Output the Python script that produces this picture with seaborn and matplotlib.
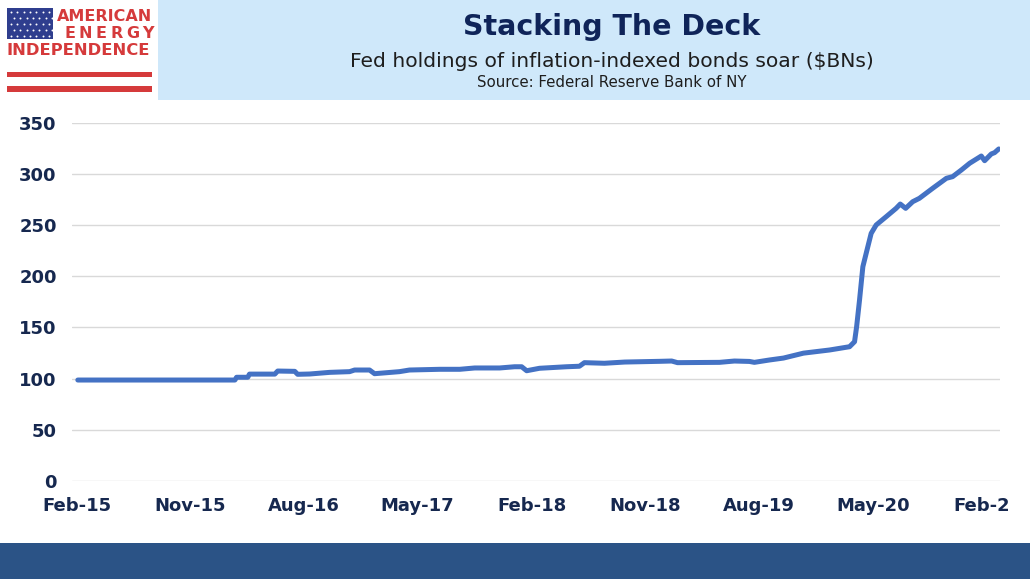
import pandas as pd
import matplotlib
matplotlib.use('Agg')
import matplotlib.pyplot as plt
from matplotlib.patches import Rectangle
from matplotlib.transforms import Bbox, TransformedBbox
import seaborn as sns

# Fed holdings of TIPS, $BN
datas = ['2015-02-04', '2016-02-17', '2016-02-21', '2016-03-19', '2016-03-23',
         '2016-05-23', '2016-05-30', '2016-07-10', '2016-07-17', '2016-08-15',
         '2016-10-02', '2016-11-19', '2016-12-01', '2017-01-06', '2017-01-18',
         '2017-03-19', '2017-04-12', '2017-06-24', '2017-08-11', '2017-09-16',
         '2017-11-15', '2017-12-21', '2018-01-07', '2018-01-19', '2018-02-19',
         '2018-04-25', '2018-05-26', '2018-06-07', '2018-07-25', '2018-09-12',
         '2018-12-05', '2019-01-03', '2019-01-17', '2019-04-28', '2019-06-03',
         '2019-07-09', '2019-07-21', '2019-08-26', '2019-09-29', '2019-11-16',
         '2020-01-18', '2020-02-11', '2020-03-06', '2020-03-18', '2020-03-23',
         '2020-03-30', '2020-04-07', '2020-04-15', '2020-04-27', '2020-05-09',
         '2020-06-02', '2020-06-26', '2020-07-06', '2020-07-19', '2020-08-05',
         '2020-08-21', '2020-09-22', '2020-10-25', '2020-11-09', '2020-11-30',
         '2020-12-20', '2021-01-17', '2021-01-25', '2021-02-10', '2021-02-18',
         '2021-02-28']
valores = [98.5, 98.5, 101.2, 101.2, 104.3,
           104.3, 107.3, 107.0, 104.1, 104.4,
           106.0, 106.7, 108.3, 108.3, 104.7,
           106.7, 108.3, 109.0, 109.0, 110.3,
           110.3, 111.5, 111.5, 107.6, 110.0,
           111.5, 112.0, 115.5, 114.9, 116.1,
           116.8, 117.1, 115.5, 115.8, 117.1,
           116.7, 115.8, 118.1, 120.0, 124.8,
           127.9, 129.5, 131.1, 136.0, 150.7,
           176.8, 209.4, 222.5, 242.0, 250.2,
           258.3, 266.5, 270.7, 266.5, 273.0,
           276.3, 286.1, 295.9, 297.5, 304.0,
           310.6, 317.7, 313.1, 319.7, 321.0,
           324.6]

ticks_x = ['2015-02-01', '2015-11-01', '2016-08-01', '2017-05-01', '2018-02-01',
           '2018-11-01', '2019-08-01', '2020-05-01', '2021-02-01']
rotulos_x = ['Feb-15', 'Nov-15', 'Aug-16', 'May-17', 'Feb-18',
             'Nov-18', 'Aug-19', 'May-20', 'Feb-21']
ticks_y = [0, 50, 100, 150, 200, 250, 300, 350]

titulo = 'Stacking The Deck'
subtitulo = 'Fed holdings of inflation-indexed bonds soar ($BNs)'
fonte = 'Source: Federal Reserve Bank of NY'

df = pd.DataFrame({'data': pd.to_datetime(datas), 'valor': valores})

sns.set_style('white')
plt.rcParams['font.family'] = ['DejaVu Sans']

W, H = 1030, 579
fig = plt.figure(figsize=(W / 100, H / 100), dpi=100)

# fundo / cabeçalho em coordenadas de pixel
bg = fig.add_axes([0, 0, 1, 1], zorder=0)
bg.set_xlim(0, W)
bg.set_ylim(H, 0)
bg.axis('off')
bg.add_patch(Rectangle((158, 0), W - 158, 100, color='#CFE8FA', lw=0))
bg.add_patch(Rectangle((0, 543), W, H - 543, color='#2B5386', lw=0))

# logo
vermelho = '#D53A3B'
bg.add_patch(Rectangle((7, 8), 46, 31, color='#2F3E8E', lw=0))
sx, sy = [], []
for r in range(5):
    for c in range(7):
        sx.append(11 + c * 6.3 + (3 if r % 2 else 0))
        sy.append(12 + r * 6)
bg.scatter(sx, sy, s=2, color='white', lw=0)
bg.text(152, 21, 'AMERICAN', color=vermelho, fontsize=11.5, fontweight='bold',
        ha='right', va='baseline')
for i, letra in enumerate('ENERGY'):
    bg.text(70 + i * 15.6, 38, letra, color=vermelho, fontsize=11.5,
            fontweight='bold', ha='center', va='baseline')
bg.text(78, 55, 'INDEPENDENCE', color=vermelho, fontsize=11.8, fontweight='bold',
        ha='center', va='baseline')
bg.add_patch(Rectangle((7, 72), 145, 5, color=vermelho, lw=0))
bg.add_patch(Rectangle((7, 86), 145, 6, color=vermelho, lw=0))

# títulos
bg.text(612, 35, titulo, color='#0F2459', fontsize=20.5, fontweight='bold',
        ha='center', va='baseline')
bg.text(612, 67, subtitulo, color='#1E1E1E', fontsize=14.6, ha='center', va='baseline')
bg.text(612, 87, fonte, color='#1E1E1E', fontsize=10.8, ha='center', va='baseline')

# gráfico principal
x0, x1 = 72, 1000
y0, y1 = 480.7, 123
ax = fig.add_axes([x0 / W, 1 - y0 / H, (x1 - x0) / W, (y0 - y1) / H], zorder=1)
sns.lineplot(data=df, x='data', y='valor', ax=ax, color='#4472C4', linewidth=3.6,
             solid_capstyle='round', solid_joinstyle='round')

ax.set_xlim(pd.Timestamp('2015-01-21'), pd.Timestamp('2021-03-03'))
ax.set_ylim(0, 350)
ax.set_yticks(ticks_y)
ax.set_xticks(pd.to_datetime(ticks_x))
ax.set_xticklabels(rotulos_x)
ax.set_xlabel('')
ax.set_ylabel('')
ax.grid(True, axis='y', color='#D9D9D9', linewidth=1)
ax.set_axisbelow(True)
for s in ax.spines.values():
    s.set_visible(False)
ax.tick_params(axis='both', length=0, labelsize=13, labelcolor='#16284F')
ax.tick_params(axis='y', pad=11)
ax.tick_params(axis='x', pad=12)
for lab in ax.get_xticklabels() + ax.get_yticklabels():
    lab.set_fontweight('bold')

# o último rótulo aparece cortado no original
corte = TransformedBbox(Bbox.from_extents(0, 0, 1010 / W, 1), fig.transFigure)
for lab in ax.get_xticklabels():
    lab.set_clip_on(True)
    lab.set_clip_box(corte)

fig.savefig('out.png', dpi=100)
